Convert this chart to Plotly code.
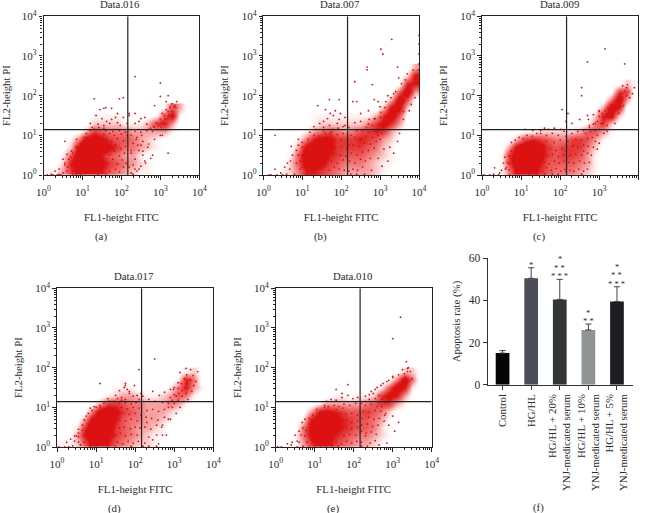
import plotly.graph_objects as go

W, H = 645, 513
SERIF = "Liberation Serif"
INK = "#2b2b2b"
RED = "#dc1212"

gate_fl1 = 146
gate_fl2 = 14
decade_vals = [1, 10, 100, 1000, 10000]
decade_text = ["10<sup>0</sup>", "10<sup>1</sup>", "10<sup>2</sup>", "10<sup>3</sup>", "10<sup>4</sup>"]
cell_centres = [0.1 + 0.2 * k for k in range(20)]

# Hand-estimated event density (0-9) in 0.2-decade cells; rows run upward from FL2 = 10^0, columns rightward from FL1 = 10^0.
a_density = ["11368877543211", "00279998654321", "00159997543310", "000289998644321", "000149986554321",
             "00000365444333331", "00000022221113673", "000000111100001581", "000000000000000153"]
b_density = ["0012477654333321", "00025998654443211", "00015999765554321", "00003899866665421", "00001478866676532",
             "000001345434567631", "000000122222246863", "000000111111113795", "0000000000000003882", "0000000000000000395",
             "00000000000000000593", "00000000000000000077", "00000000000000000028", "00000000000000000003"]
c_density = ["001489865444321", "001699975555431", "001699986566531", "000389986566642", "0000367654466531",
             "00000112222235531", "00000000000001462", "000000000000002782", "000000000000000397", "0000000000000000493",
             "0000000000000000066", "00000000000000000021"]
d_density = ["1125887543221", "00379986543211", "00169996543321", "000389975443321", "0000499865433321",
             "00000366544333431", "000000123321123541", "0000000111000014731", "000000001000000174", "000000000000000012"]
e_density = ["00136886543321", "001489976544321", "00048998765542", "000179987655431", "000037876556542",
             "00000133333456631", "00000001101126873", "000000000000015971", "000000000000000494", "000000000000000022"]

# Hand-read log10 positions of visible single events and speckle
a_title = "Data.016"
a_core_x = [.6,.75,.9,1.05,1.2,1.35,.55,.7,.85,1.0,1.15,1.3,1.45,.65,.8,.95,1.1,1.25,1.4,.75,.9,1.05,1.2,1.35,.85,1.0,1.15,1.3,1.45,1.02,1.15,1.3,1.45,1.25,1.38]
a_core_y = [.1,.1,.1,.1,.1,.1,.25,.25,.25,.25,.25,.25,.25,.4,.4,.4,.4,.4,.4,.55,.55,.55,.55,.55,.7,.7,.7,.7,.7,.85,.85,.85,.85,.98,.98]
a_mid_x = [1.5,1.6,1.7,1.85,1.95,2.05,1.52,1.65,1.78,1.9,2.02,2.12,1.55,1.7,1.82,1.95,2.08,1.6,1.72,1.85,1.98,2.1,1.5,1.62,1.75,1.9,2.05,1.55,1.7,1.82,2.0,2.15,1.6,1.78,1.95,2.1,2.25,2.35,2.45,2.55,2.3,2.42,2.55,2.68,2.25,2.4,2.52,2.35,2.5,2.3,2.45,2.65,2.75,2.85,2.95,3.0,3.05,3.1,3.15,3.2,2.8,2.92,3.02,3.12,3.22,3.28,2.9,3.0,3.1,3.2,3.25,3.05,3.15,3.25,2.7,2.82]
a_mid_y = [.12,.18,.1,.15,.08,.2,.35,.3,.4,.28,.38,.3,.55,.5,.6,.48,.55,.72,.68,.75,.66,.72,.88,.9,.85,.92,.86,1.02,1.05,1.0,1.03,1.0,1.12,1.1,1.12,1.08,.55,.4,.62,.5,.8,.75,.85,.7,1.0,.95,1.0,1.1,1.08,.25,.15,1.12,1.18,1.2,1.25,1.3,1.35,1.3,1.4,1.45,1.1,1.15,1.2,1.42,1.52,1.6,1.32,1.4,1.5,1.6,1.68,1.55,1.65,1.72,1.15,1.22]
a_dots_x = [.1,.25,.35,.45,.3,.4,.5,.55,.62,.2,.7,.5,.6,.72,.85,.4,.95,.85,1.05,1.2,1.3,.55,1.42,1.55,1.62,1.7,1.75,1.85,1.9,1.97,1.5,1.35,1.2,1.45,1.6,1.75,1.9,2.05,2.2,1.4,1.55,1.25,1.1,2.25,2.35,2.5,2.62,2.75,2.8,2.2,2.3,2.4,2.55,2.7,2.85,3.0,3.38,3.42,3.3,3.35,3.15,3.0,2.85,2.45,2.6,3.2,3.05,2.2,2.35,2.5,2.65,2.25,2.38,2.5,2.6,2.05,2.15,1.3,1.55,1.95,2.35,3.0,3.2,3.4,2.35,.75,.85,.95,1.4,1.6]
a_dots_y = [0,0,0,0,.1,.15,.05,.3,.2,.02,.45,.4,.52,.6,.72,.02,.8,.9,.95,1.12,1.15,.85,1.2,1.25,1.35,1.3,1.4,1.45,1.32,1.25,1.42,1.5,1.3,1.65,1.7,1.68,1.55,1.45,1.5,1.28,1.18,1.2,1.05,.05,.15,.22,.3,.42,.5,.2,.02,.1,.6,.78,.9,1.0,1.75,1.85,1.8,1.72,1.85,1.98,1.75,1.35,1.45,.55,1.0,1.55,1.3,1.42,1.28,.62,.9,.75,.35,1.95,1.3,1.92,1.68,1.92,1.55,2.32,2.0,1.7,2.48,.0,.0,.0,.0,.0]

b_title = "Data.007"
b_core_x = [1.0,1.12,1.25,1.38,1.5,.95,1.08,1.2,1.33,1.46,1.6,1.0,1.12,1.25,1.38,1.5,1.65,1.1,1.22,1.35,1.48,1.62,1.75,1.3,1.45,1.6,3.0,3.08,3.16,3.24,3.3,3.38,3.45,3.5,3.58,3.64,3.7,3.76,3.82,3.88,3.94,3.98,3.12,3.22,3.32,3.42,3.52,3.62,3.72,3.82]
b_core_y = [.2,.15,.18,.2,.15,.35,.32,.35,.38,.33,.3,.5,.48,.5,.5,.48,.45,.65,.62,.65,.62,.6,.62,.8,.78,.75,1.25,1.35,1.45,1.55,1.62,1.72,1.8,1.9,1.98,2.05,2.15,2.22,2.3,2.42,2.5,2.65,1.28,1.42,1.5,1.62,1.72,1.85,1.98,2.12]
b_mid_x = [1.7,1.82,1.95,2.08,1.75,1.9,2.05,1.8,1.98,2.12,1.85,2.0,2.15,1.7,1.85,2.0,.85,.9,.95,1.0,1.6,1.75,1.9,2.05,2.2,2.3,2.42,2.55,2.22,2.35,2.5,2.62,2.75,2.25,2.4,2.55,2.7,2.85,2.3,2.45,2.6,2.75,2.9,3.0,2.35,2.5,2.65,2.8,2.95,3.05,2.55,2.7,2.85,3.0,2.65,2.8,2.95,3.05,2.72,2.88,3.0,2.25,2.4,2.2,3.1,3.2,3.25,3.02,3.12]
b_mid_y = [.12,.2,.15,.12,.35,.3,.38,.55,.5,.48,.68,.72,.65,.92,.9,.88,.3,.5,.15,.7,1.05,1.08,1.02,1.05,.1,.15,.12,.2,.35,.3,.4,.35,.42,.55,.5,.58,.62,.68,.75,.72,.8,.78,.85,.9,.95,.9,.98,.95,1.0,1.05,1.1,1.08,1.12,1.15,1.2,1.25,1.28,1.2,1.4,1.42,1.45,1.0,1.12,.75,1.15,1.3,1.5,1.58,1.7]
b_dots_x = [.3,.2,.45,.55,.62,.7,.75,.6,.5,.68,.8,.85,.72,.15,.35,.9,1.0,1.15,1.1,1.3,1.42,1.55,1.7,1.8,1.9,1.55,1.65,1.8,1.95,2.05,2.1,1.98,1.85,1.72,1.6,1.45,1.3,1.4,1.7,1.95,2.25,2.4,2.6,2.78,2.95,2.2,2.35,2.5,2.7,2.85,3.1,3.25,3.45,3.5,3.6,3.75,3.9,3.97,4.0,4.0,4.0,4.0,3.3,3.02,3.07,2.67,2.67,3.45,2.35,2.8,2.4,2.85,2.3,2.5,2.7,3.0,3.15,3.28,3.35,2.95,3.2,3.4,3.55,3.65,3.48,3.7,3.85,3.6,3.8,.3,.9,1.1,1.25,1.05,1.2,1.35,1.55,1.72,1.92,2.1,3.2,3.35,3.05]
b_dots_y = [.15,0,.05,.2,.3,.35,.5,.02,0,.15,.02,.62,.72,0,0,.75,.82,.9,0,1.0,.98,1.2,1.25,1.15,1.3,1.35,1.42,1.5,1.4,1.22,1.45,1.55,1.62,1.55,1.65,1.3,1.22,1.75,1.9,1.9,.02,.02,.02,.12,.42,1.2,1.32,1.35,1.28,1.42,.65,.7,.85,1.05,1.4,1.62,1.95,2.3,2.8,3.05,3.3,3.52,3.42,3.17,3.05,2.72,2.65,2.72,2.35,2.28,1.85,1.9,1.85,1.55,1.62,1.72,1.85,1.95,2.05,1.85,2.0,2.1,2.3,2.4,2.45,2.55,2.65,1.6,1.78,1.0,.9,.1,.02,.6,1.08,1.15,1.1,1.05,1.18,1.25,.35,.55,.22]

c_title = "Data.009"
c_core_x = [.7,.85,1.0,1.15,1.3,1.45,.7,.85,1.0,1.15,1.3,1.45,.75,.9,1.05,1.2,1.35,1.5,.85,1.0,1.15,1.3,1.45,1.0,1.15,1.3,3.0,3.08,3.15,3.22,3.3,3.38,3.45,3.52,3.58,3.65,3.12,3.22,3.32,3.42,3.5,3.6]
c_core_y = [.12,.1,.12,.1,.12,.1,.28,.28,.3,.28,.3,.28,.42,.45,.45,.45,.45,.42,.6,.6,.6,.6,.58,.75,.75,.72,1.48,1.55,1.62,1.7,1.78,1.85,1.9,1.98,2.05,2.12,1.42,1.52,1.65,1.75,1.82,1.95]
c_mid_x = [1.55,1.65,1.78,1.9,2.02,2.12,1.6,1.72,1.85,1.98,2.1,1.55,1.68,1.8,1.95,2.08,1.6,1.75,1.9,2.05,.6,.65,.7,.75,1.65,1.85,2.0,2.15,2.25,2.35,2.48,2.6,2.22,2.35,2.5,2.62,2.75,2.25,2.4,2.55,2.7,2.8,2.3,2.45,2.6,2.72,2.85,2.9,2.4,2.55,2.7,2.82,2.95,2.65,2.78,2.9,3.0,2.85,2.95,2.75,2.72,3.1,3.0,3.7,3.72,3.6]
c_mid_y = [.1,.18,.12,.16,.1,.14,.32,.28,.35,.3,.35,.5,.48,.52,.46,.5,.68,.66,.62,.66,.15,.32,.48,.6,.85,.82,.88,.08,.12,.1,.15,.1,.32,.3,.35,.3,.32,.5,.52,.5,.55,.5,.72,.7,.75,.72,.7,.85,.9,.88,.92,.95,1.0,1.05,1.1,1.12,1.15,1.28,1.35,1.25,1.4,1.3,1.6,2.2,2.28,2.25]
c_dots_x = [.05,.2,.3,.45,.32,.5,.55,.58,.62,.42,.75,.85,.95,1.05,1.15,1.28,1.4,1.5,1.65,1.8,1.95,2.1,1.3,1.5,1.7,1.85,2.02,1.2,1.4,1.6,1.8,1.95,2.15,2.3,2.45,2.6,2.75,2.9,3.05,3.12,3.0,2.95,3.2,3.35,3.5,3.62,3.78,3.85,3.9,3.7,3.55,3.15,2.7,2.55,2.55,3.65,2.05,2.2,2.3,2.5,2.7,2.85,3.0,2.55,2.7,3.2,3.4,1.1,1.6,2.15,2.6,2.35,2.15,2.2,.7]
c_dots_y = [0,0,.02,.05,.18,.12,.3,.45,.18,0,.82,.88,.95,.92,1.0,.98,1.05,1.05,1.0,1.05,1.0,1.1,1.12,1.12,1.15,1.18,1.15,.02,.02,.02,.02,.02,.98,1.05,1.1,1.12,1.2,1.3,1.3,1.05,.8,.65,1.25,1.45,1.55,1.75,1.95,2.05,2.2,2.0,1.72,3.18,2.85,2.2,2.0,2.8,1.65,1.55,1.3,1.4,1.5,1.52,1.62,.02,.15,1.1,1.3,1.15,1.18,1.35,.6,.75,.6,.85,.0]

d_title = "Data.017"
d_core_x = [.55,.7,.85,1.0,1.15,1.3,.55,.7,.85,1.0,1.15,1.3,1.45,.65,.8,.95,1.1,1.25,1.4,.8,.95,1.1,1.25,1.4,.9,1.05,1.2,1.35,1.5,1.08,1.22,1.38,3.05,3.12,3.2,3.28,3.34,3.4,3.1,3.18,3.26,3.32]
d_core_y = [.12,.12,.1,.12,.1,.12,.26,.28,.26,.28,.26,.28,.26,.42,.42,.42,.42,.42,.42,.58,.58,.58,.58,.58,.7,.72,.7,.72,.7,.85,.85,.85,1.28,1.35,1.42,1.5,1.6,1.7,1.48,1.6,1.72,1.82]
d_mid_x = [1.55,1.68,1.82,1.95,2.08,1.5,1.62,1.75,1.9,2.05,1.6,1.72,1.88,2.0,2.12,1.6,1.75,1.9,2.05,1.55,1.7,1.85,2.0,2.15,1.5,1.65,1.8,1.95,2.1,1.6,1.75,1.9,2.02,.45,.5,.55,.6,2.25,2.35,2.45,2.55,2.25,2.4,2.55,2.68,2.28,2.42,2.58,2.75,2.85,2.3,2.45,2.6,2.75,2.85,2.95,2.7,2.85,2.95,3.0,2.9,3.0,3.1,3.2,3.3,2.98,3.42,3.48]
d_mid_y = [.12,.08,.14,.1,.14,.3,.35,.28,.32,.3,.48,.5,.46,.5,.48,.68,.66,.7,.66,.82,.85,.82,.85,.8,.98,1.0,.96,1.0,.98,1.1,1.12,1.08,1.12,.15,.28,.35,.05,.1,.25,.18,.3,.5,.45,.55,.5,.75,.72,.68,.75,.7,.92,.95,.9,.95,1.0,1.0,1.12,1.1,1.18,1.1,1.25,1.32,1.18,1.28,1.35,1.45,1.68,1.8]
d_dots_x = [.05,.2,.3,.4,.25,.35,.45,.55,.65,.7,.75,.8,.9,1.0,1.1,.85,.95,1.2,1.35,1.45,1.55,1.65,1.75,1.85,1.95,1.6,1.72,1.85,1.98,2.05,1.5,1.65,1.3,1.1,1.75,2.1,2.2,2.35,2.5,2.62,2.75,2.9,3.0,2.7,2.55,2.35,2.2,3.25,3.35,3.45,3.5,3.55,3.6,3.42,3.3,3.15,2.5,2.1,1.1,1.75,1.8,1.9,2.15,2.7,2.9,3.05,3.15,2.3,2.6,2.8,2.45,3.1,.85,1.0,1.3,1.5]
d_dots_y = [0,0,0,.03,.12,.2,.28,.45,.55,.68,.78,.85,.92,1.0,1.05,.98,1.02,1.1,1.15,1.15,1.22,1.25,1.2,1.35,1.28,1.42,1.5,1.4,1.55,1.3,1.3,1.18,1.22,1.0,1.6,1.2,1.28,1.2,1.15,1.3,1.38,1.45,1.5,.3,.02,.02,.02,1.15,1.2,1.4,1.55,1.65,1.9,1.95,1.98,1.88,2.22,1.95,1.6,1.55,1.45,.02,1.35,.55,.7,.85,1.0,.62,.08,.3,1.4,1.62,.0,.0,.0,.0]

e_title = "Data.010"
e_core_x = [.8,.95,1.1,1.25,1.4,.75,.9,1.05,1.2,1.35,1.5,.78,.92,1.08,1.22,1.38,1.52,.85,1.0,1.15,1.3,1.45,1.6,1.05,1.2,1.35,1.5,2.75,2.85,2.95,3.02,3.1,3.18,3.25,3.32,2.82,2.92,3.02,3.12,3.2,3.28,2.65,2.72]
e_core_y = [.12,.12,.1,.12,.1,.28,.28,.26,.28,.28,.26,.42,.42,.44,.42,.44,.42,.58,.58,.56,.58,.58,.56,.72,.72,.7,.72,1.22,1.3,1.38,1.45,1.52,1.6,1.68,1.75,1.12,1.2,1.3,1.4,1.5,1.6,1.12,1.2]
e_mid_x = [1.55,1.68,1.82,1.95,2.08,1.6,1.75,1.9,2.05,1.65,1.8,1.95,2.1,1.68,1.82,1.95,2.1,1.5,1.65,1.8,1.95,2.1,.6,.65,.7,1.4,1.55,1.72,2.2,2.3,2.42,2.55,2.2,2.32,2.45,2.58,2.2,2.35,2.48,2.62,2.22,2.38,2.52,2.65,2.78,2.25,2.4,2.55,2.7,2.82,2.3,2.45,2.6,2.72,2.4,2.55,2.65,2.3,2.5,3.3,3.38,3.32]
e_mid_y = [.12,.08,.14,.1,.14,.3,.28,.32,.3,.48,.5,.46,.5,.66,.68,.62,.66,.82,.85,.82,.85,.8,.12,.3,.48,.86,.95,.98,.12,.28,.1,.16,.4,.35,.38,.32,.55,.58,.52,.55,.72,.75,.7,.72,.65,.9,.88,.92,.9,.85,1.05,1.08,1.02,1.02,1.2,1.22,1.3,1.15,1.35,1.85,1.9,1.6]
e_dots_x = [.05,.15,.3,.4,.55,.5,.6,.42,.68,.75,.85,.95,1.05,1.15,1.25,1.35,1.5,1.62,1.75,1.9,2.05,1.3,1.42,1.55,1.7,1.85,1.98,.85,1.0,1.15,1.3,1.45,1.6,2.2,2.3,2.45,2.6,2.75,2.9,3.0,2.4,2.55,2.7,2.85,3.0,3.15,3.25,3.38,3.4,3.45,3.5,3.2,3.0,3.35,1.85,1.55,1.7,2.35,2.2,2.65,2.85,3.05,3.15,2.9,3.0,2.1,2.8,1.25,.7,.55]
e_dots_y = [0,0,.08,.05,.15,.3,.4,.12,.62,.7,.72,.8,.95,.9,1.0,1.02,1.05,1.02,1.08,1.05,1.1,1.15,1.2,1.18,1.25,1.3,1.22,0,0,0,0,0,.02,1.1,1.28,1.4,1.5,1.6,1.68,1.78,1.32,1.45,1.55,1.65,1.75,1.82,1.95,1.98,2.0,1.9,1.72,3.27,2.73,2.15,1.57,1.45,1.35,.02,.02,.05,.1,.4,.62,.55,.78,1.25,.8,1.05,.02,.0]

f_groups = ["Control", "HG/HL", "HG/HL + 20%<br>YNJ-medicated serum", "HG/HL + 10%<br>YNJ-medicated serum", "HG/HL + 5%<br>YNJ-medicated serum"]
f_values = [15, 50.5, 40.5, 26, 39.5]
f_errors = [1.2, 5, 9.5, 2.8, 7]
f_colors = ["#050505", "#4b4e57", "#323635", "#8f9392", "#1b1d20"]
f_stars = [[], ["*"], ["*", "* *", "* * *"], ["*", "* *"], ["*", "* *", "* * *"]]

panels = [
    (a_title, "(a)", a_density, a_core_x + a_mid_x + a_dots_x, a_core_y + a_mid_y + a_dots_y, (43.5, 199.3, 16.3, 175)),
    (b_title, "(b)", b_density, b_core_x + b_mid_x + b_dots_x, b_core_y + b_mid_y + b_dots_y, (263.3, 419, 16.3, 175)),
    (c_title, "(c)", c_density, c_core_x + c_mid_x + c_dots_x, c_core_y + c_mid_y + c_dots_y, (482, 638.3, 16.3, 175)),
    (d_title, "(d)", d_density, d_core_x + d_mid_x + d_dots_x, d_core_y + d_mid_y + d_dots_y, (57, 213.3, 288.3, 447)),
    (e_title, "(e)", e_density, e_core_x + e_mid_x + e_dots_x, e_core_y + e_mid_y + e_dots_y, (275.7, 431.7, 288.3, 447)),
]

fig = go.Figure()
layout = dict(width=W, height=H, margin=dict(l=0, r=0, t=0, b=0), autosize=False,
              paper_bgcolor="white", plot_bgcolor="white", showlegend=False,
              font=dict(family=SERIF, color=INK, size=10.8))
notes = []

def unlog(vals):
    return [10 ** v for v in vals]

def grid(rows):
    return [[int(ch) for ch in r[:20].ljust(20, "0")] for r in rows]

def label_at(px, py, text):
    return dict(x=px / W, y=1 - py / H, xref="paper", yref="paper", text=text, showarrow=False,
                xanchor="center", yanchor="middle", font=dict(family=SERIF, size=10.8, color=INK))

for i, (title, cap, dens, px, py, box) in enumerate(panels, start=1):
    xn, yn = f"x{i}", f"y{i}"
    l, r, t, b = box
    z = grid(dens)
    fig.add_trace(go.Heatmap(z=z, x=unlog(cell_centres), y=unlog(cell_centres[:len(z)]), xaxis=xn, yaxis=yn,
                             zmin=0, zmax=9, zsmooth="best", showscale=False, hoverinfo="skip",
                             colorscale=[[0, "rgba(255,255,255,0)"], [.2, "#fbd5d5"], [.45, "#f07575"], [.8, RED], [1, RED]]))
    fig.add_trace(go.Scatter(x=unlog(px), y=unlog(py), mode="markers", xaxis=xn, yaxis=yn,
                             marker=dict(color=RED, size=1.8, line=dict(width=0)), hoverinfo="skip"))
    fig.add_trace(go.Scatter(x=[gate_fl1, gate_fl1], y=[1, 10000], mode="lines", xaxis=xn, yaxis=yn,
                             line=dict(color="#222", width=1.2), hoverinfo="skip"))
    fig.add_trace(go.Scatter(x=[1, 10000], y=[gate_fl2, gate_fl2], mode="lines", xaxis=xn, yaxis=yn,
                             line=dict(color="#222", width=1.2), hoverinfo="skip"))
    ax = dict(type="log", range=[0, 4], showgrid=False, zeroline=False, showline=True, mirror=True, automargin=False,
              linecolor="#222", linewidth=1.2, ticks="outside", ticklen=3.5, tickwidth=1, tickcolor="#222",
              tickmode="array", tickvals=decade_vals, ticktext=decade_text,
              tickfont=dict(family=SERIF, size=11, color=INK),
              minor=dict(ticks="outside", ticklen=2, tickwidth=.7, tickcolor="#222", dtick="D1", showgrid=False))
    layout[f"xaxis{i}"] = dict(ax, domain=[l / W, r / W], anchor=yn, ticklabelstandoff=3,
                               title=dict(text="FL1-height FITC", font=dict(family=SERIF, size=10.8, color=INK), standoff=16))
    layout[f"yaxis{i}"] = dict(ax, domain=[1 - b / H, 1 - t / H], anchor=xn,
                               title=dict(text="FL2-height PI", font=dict(family=SERIF, size=10.8, color=INK), standoff=10))
    notes.append(label_at((l + r) / 2 - 1, t - 12.5, title))
    notes.append(label_at(l + 57, b + 61, cap))

fig.add_trace(go.Bar(x=f_groups, y=f_values, xaxis="x6", yaxis="y6", width=.48,
                     marker=dict(color=f_colors, line=dict(width=0)),
                     error_y=dict(type="data", symmetric=False, array=f_errors, arrayminus=[0] * 5,
                                  color="#444", thickness=1, width=3), hoverinfo="skip"))
fl, fr, ft, fb = 487.7, 632.7, 258.3, 384.7
layout["xaxis6"] = dict(domain=[fl / W, fr / W], anchor="y6", type="category", categoryorder="array", categoryarray=f_groups,
                        range=[-.52, 4.55], showline=True, linecolor="#333", linewidth=1.2, ticks="outside", ticklen=4,
                        tickcolor="#333", tickangle=-90, showgrid=False, automargin=False,
                        tickfont=dict(family=SERIF, size=10.8, color=INK))
layout["yaxis6"] = dict(domain=[1 - fb / H, 1 - ft / H], anchor="x6", range=[0, 60], showline=True, linecolor="#333", linewidth=1.2,
                        ticks="outside", ticklen=4, tickcolor="#333", tickvals=[0, 20, 40, 60], showgrid=False, zeroline=False, automargin=False,
                        tickfont=dict(family=SERIF, size=11.5, color=INK),
                        title=dict(text="Apoptosis rate (%)", font=dict(family=SERIF, size=10.8, color=INK), standoff=6))
for g, val, err, rows in zip(f_groups, f_values, f_errors, f_stars):
    for k, s in enumerate(reversed(rows)):
        notes.append(dict(x=g, y=val + err, xref="x6", yref="y6", text=s, showarrow=False, yanchor="middle",
                          yshift=3 + k * 8.5, font=dict(family=SERIF, size=8.5, color=INK)))
notes.append(label_at(538, 507, "(f)"))
layout["annotations"] = notes
fig.update_layout(**layout)
fig.write_html("out.html", config={"displayModeBar": False}, post_script="document.body.style.margin='0';")
